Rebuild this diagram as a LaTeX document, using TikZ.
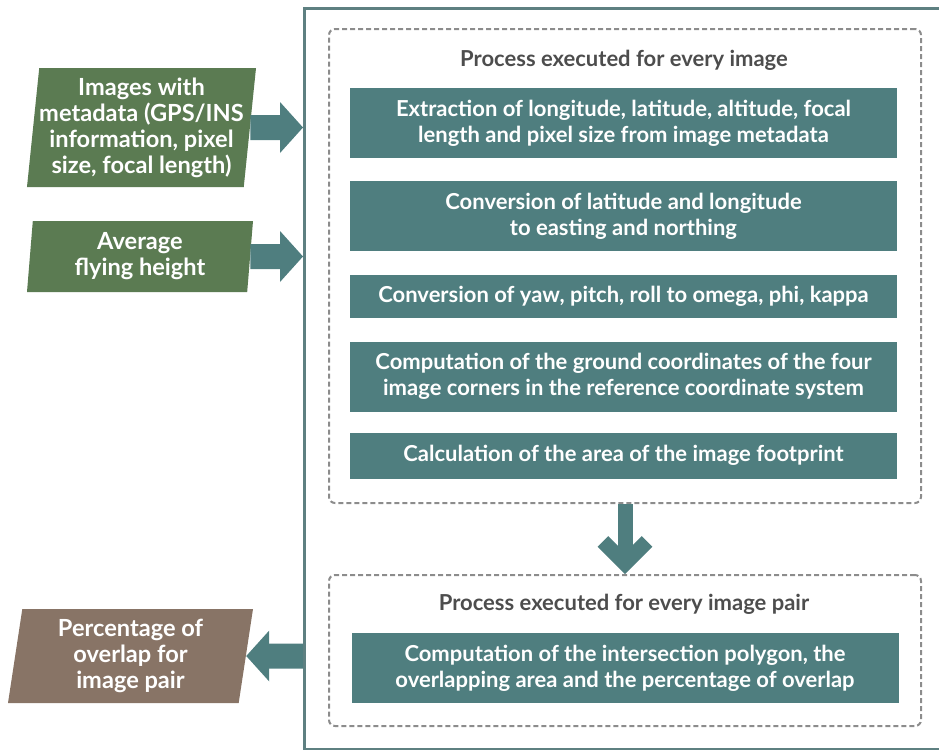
\documentclass[tikz,border=0pt]{standalone}
\usepackage{fontspec}
\setmainfont{Lato}
\usetikzlibrary{arrows.meta,shapes.geometric}

\definecolor{boxteal}{HTML}{4F7E7F}
\definecolor{inputgreen}{HTML}{5B7B52}
\definecolor{outputbrown}{HTML}{887466}
\definecolor{framegray}{HTML}{5E8081}
\definecolor{dashgray}{HTML}{8C8C8C}
\definecolor{titlegray}{HTML}{4D4D4D}

\newcommand*\px{0.5pt}
\newcommand*\boxwidth{547}
\tikzset{
  frame/.style={draw=framegray, line width=1.5pt, rectangle, inner sep=0pt},
  stage/.style 2 args={
    draw=dashgray,
    line width=1pt,
    dash pattern=on 2.5pt off 1.5pt,
    rounded corners=3pt,
    rectangle,
    anchor=north west,
    inner sep=0pt,
    minimum width=#1*\px,
    minimum height=#2*\px
  },
  title/.style={text=titlegray, font=\bfseries\fontsize{11}{13}\selectfont},
  stepbox/.style={
    rectangle,
    fill=boxteal,
    text=white,
    font=\bfseries\fontsize{11}{13}\selectfont,
    align=center,
    inner sep=0pt,
    minimum width=\boxwidth*\px,
    minimum height=#1*\px
  },
  io/.style={
    trapezium,
    trapezium stretches body,
    text=white,
    font=\bfseries\fontsize{11.8}{13}\selectfont,
    align=center,
    inner sep=0pt
  },
  input/.style 2 args={io, fill=inputgreen,
    trapezium left angle=83, trapezium right angle=97,
    minimum width=#1*\px, minimum height=#2*\px},
  output/.style 2 args={io, fill=outputbrown,
    trapezium left angle=79, trapezium right angle=101,
    minimum width=#1*\px, minimum height=#2*\px},
  fatarrow/.style={draw=boxteal, line width=12.5pt,
    -{Triangle[length=11.5pt,width=25.5pt,line width=0pt]}},
  downarrow/.style={draw=boxteal, line width=7.5pt,
    -{Straight Barb[length=11pt,width=22pt]}}
}

\begin{document}
\begin{tikzpicture}[x=\px,y=-\px]
    \useasboundingbox (0,0) rectangle (939,750);

    % Outer frame, its right side runs off the page.
    \node[frame, anchor=north west, minimum width=660*\px, minimum height=741*\px] (main) at (303,7) {};

    % The two dashed stages and their titles.
    \node[stage={592}{474}] (perimage) at (328,28) {};
    \node[stage={592}{151}] (perpair) at (328,574) {};
    \node[title] (perimagetitle) at (624,60) {Process executed for every image};
    \node[title] (perpairtitle) at (624,604) {Process executed for every image pair};

    % Steps for every image.
    \node[stepbox=70] (extract) at (623.5,123) {Extraction of longitude, latitude, altitude, focal\\length and pixel size from image metadata};
    \node[stepbox=70] (latlon) at (623.5,216) {Conversion of latitude and longitude\\to easting and northing};
    \node[stepbox=43] (angles) at (623.5,296) {Conversion of yaw, pitch, roll to omega, phi, kappa};
    \node[stepbox=70] (corners) at (623.5,376.5) {Computation of the ground coordinates of the four\\image corners in the reference coordinate system};
    \node[stepbox=46] (footprint) at (623.5,455.5) {Calculation of the area of the image footprint};

    % Step for every image pair.
    \node[stepbox=70] (overlap) at (625,668) {Computation of the intersection polygon, the\\overlapping area and the percentage of overlap};

    % Inputs and output.
    \node[input={227}{119}] (images) at (141.5,127.5) {Images with\\metadata (GPS/INS\\information, pixel\\size, focal length)};
    \node[input={226}{71}] (height) at (140,256.5) {Average\\flying height};
    \node[output={245}{94}] (percent) at (130.5,656) {Percentage of\\overlap for\\image pair};

    % Connectors.
    \coordinate (imagesin) at (images -| main.west);
    \coordinate (heightin) at (height -| main.west);
    \coordinate (percentout) at (percent -| main.west);
    \draw[fatarrow] (images) -- (imagesin);
    \draw[fatarrow] (height) -- (heightin);
    \draw[fatarrow] (percentout) -- (percent);
    \draw[downarrow] (perimage) -- (perpair);

\end{tikzpicture}
\end{document}
